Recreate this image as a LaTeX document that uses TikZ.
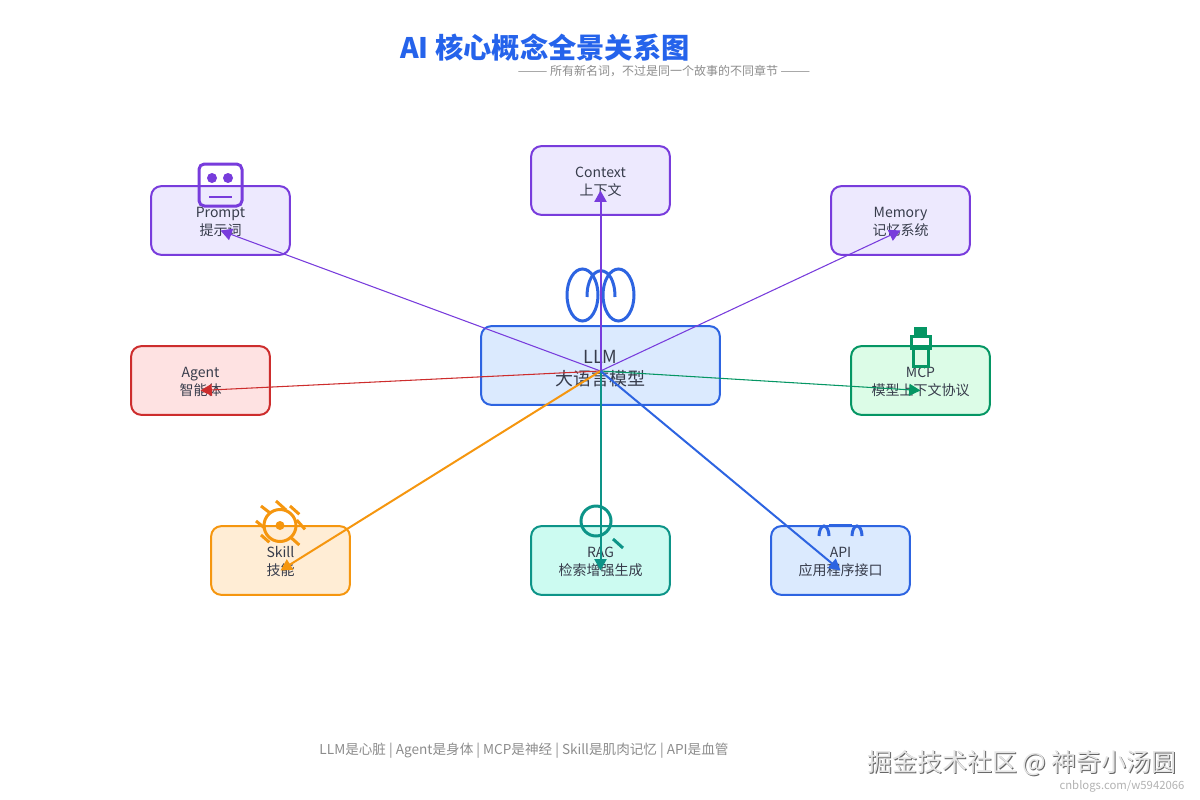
\documentclass[tikz,border=0pt]{standalone}
\usepackage{fontspec}
\setmainfont{Noto Sans CJK SC}
\usepackage{xcolor}
\usetikzlibrary{arrows.meta,positioning}
\definecolor{purpleline}{RGB}{120,60,220}
\definecolor{purplefill}{RGB}{237,233,254}
\definecolor{blueline}{RGB}{45,100,225}
\definecolor{bluefill}{RGB}{219,234,254}
\definecolor{titleblue}{RGB}{37,99,235}
\definecolor{redline}{RGB}{205,45,45}
\definecolor{redfill}{RGB}{254,226,226}
\definecolor{greenline}{RGB}{5,150,100}
\definecolor{greenfill}{RGB}{220,252,231}
\definecolor{tealline}{RGB}{13,148,136}
\definecolor{tealfill}{RGB}{204,251,241}
\definecolor{orangeline}{RGB}{245,150,15}
\definecolor{orangefill}{RGB}{255,237,213}
\definecolor{ink}{RGB}{55,60,75}
\definecolor{muted}{RGB}{140,140,140}
\begin{document}
\begin{tikzpicture}[x=0.75pt,y=-0.75pt,
  concept/.style={rectangle, rounded corners=7.5pt, line width=1.5pt, minimum width=104pt,
    minimum height=51.5pt, inner sep=0pt, align=center, text=ink, font=\fontsize{10.5pt}{13.5pt}\selectfont},
  arr/.style={-{Triangle[length=8.5pt,width=9pt]}},
  thin link/.style={arr, line width=0.8pt},
  bold link/.style={arr, line width=1.5pt},
  icon/.style={line width=2.25pt}]
  \useasboundingbox (0,0) rectangle (1200,800);
  % title
  \node[text=titleblue, font=\fontsize{21.2pt}{25pt}\selectfont\bfseries] (title) at (545,48) {AI 核心概念全景关系图};
  \node[text=muted, font=\fontsize{9pt}{11pt}\selectfont] (subtitle) at (664,71) {——— 所有新名词，不过是同一个故事的不同章节 ———};
  % concepts
  \node[concept, draw=purpleline, fill=purplefill] (prompt) at (220.5,220.5) {\rule{0pt}{9.2pt}Prompt\\提示词};
  \node[concept, draw=purpleline, fill=purplefill] (context) at (600.5,180.5) {\rule{0pt}{9.2pt}Context\\上下文};
  \node[concept, draw=purpleline, fill=purplefill] (memory) at (900.5,220.5) {\rule{0pt}{9.2pt}Memory\\记忆系统};
  \node[concept, draw=redline, fill=redfill] (agent) at (200.5,380.5) {\rule{0pt}{9.2pt}Agent\\智能体};
  \node[concept, draw=greenline, fill=greenfill] (mcp) at (920.5,380.5) {\rule{0pt}{9.2pt}MCP\\模型上下文协议};
  \node[concept, draw=orangeline, fill=orangefill] (skill) at (280.5,560.5) {\rule{0pt}{9.2pt}Skill\\技能};
  \node[concept, draw=tealline, fill=tealfill] (rag) at (600.5,560.5) {\rule{0pt}{9.2pt}RAG\\检索增强生成};
  \node[concept, draw=blueline, fill=bluefill] (api) at (840.5,560.5) {\rule{0pt}{9.2pt}API\\应用程序接口};
  % center
  \node[concept, draw=blueline, fill=bluefill, minimum width=179pt, minimum height=59pt,
    font=\fontsize{13.5pt}{16.5pt}\selectfont] (llm) at (600.5,365.5) {\rule{0pt}{15pt}LLM\\大语言模型};
  % icons
  \draw[icon, purpleline, rounded corners=4pt] (199,164) rectangle (242,206);
  \fill[purpleline] (212,178) circle (5) (228,178) circle (5);
  \draw[line width=1.5pt, purpleline] (209,197) -- (232,197);
  \draw[icon, blueline] (582.5,295) ellipse (15.5 and 26) (618.5,295) ellipse (15.5 and 26);
  \draw[icon, blueline] (587,297) .. controls (587,262) and (615,262) .. (615,297);
  \fill[greenline] (914,327) rectangle (927,336);
  \draw[icon, greenline] (911.5,336) rectangle (930,348.5) (913.5,348.5) rectangle (928,366.5);
  \draw[icon, orangeline] (280,525.5) circle (16);
  \fill[orangeline] (280,525.5) circle (4.5);
  \draw[icon, orangeline] (261,506) -- (270.7,513.5) (276,501) -- (286,510) (290,506) -- (299.3,514.3)
    (256,521) -- (265,528.3) (296.7,520) -- (305,529.3) (261,535) -- (269.3,542.3) (290,536.7) -- (299.3,545);
  \draw[icon, tealline] (596,521) circle (15);
  \draw[icon, tealline] (613,539) -- (623,548);
  \draw[icon, blueline] (819,536) arc[start angle=180, end angle=360, x radius=5, y radius=10]
    (852,536) arc[start angle=180, end angle=360, x radius=5, y radius=10];
  \draw[line width=1.5pt, blueline] (829,525) -- (852,525);
  % links
  \coordinate (hub) at (600.5,371);
  \coordinate (prompt end) at ([yshift=-7.5pt]prompt.center);
  \coordinate (context end) at ([yshift=-7.5pt]context.center);
  \coordinate (memory end) at ([yshift=-7.5pt]memory.center);
  \coordinate (agent end) at ([yshift=-7.5pt]agent.center);
  \coordinate (mcp end) at ([yshift=-7.5pt]mcp.center);
  \coordinate (skill end) at ([yshift=-7.5pt]skill.center);
  \coordinate (rag end) at ([yshift=-7.5pt]rag.center);
  \coordinate (api end) at ([yshift=-7.5pt]api.center);
  \draw[thin link, purpleline] (hub) -- (prompt end);
  \draw[bold link, purpleline] (hub) -- (context end);
  \draw[thin link, purpleline] (hub) -- (memory end);
  \draw[thin link, redline] (hub) -- (agent end);
  \draw[thin link, greenline] (hub) -- (mcp end);
  \draw[bold link, orangeline] (hub) -- (skill end);
  \draw[bold link, tealline] (hub) -- (rag end);
  \draw[bold link, blueline] (hub) -- (api end);
  % footer
  \node[text=muted, font=\fontsize{10.2pt}{12pt}\selectfont] (footer) at (524,751)
    {LLM是心脏 | Agent是身体 | MCP是神经 | Skill是肌肉记忆 | API是血管};
  \node[text=black!60, font=\fontsize{18.75pt}{22pt}\selectfont] (mark shadow) at (1023,764.5) {掘金技术社区 @ 神奇小汤圆};
  \node[text=white!90!black, font=\fontsize{18.75pt}{22pt}\selectfont] (mark) at (1022,763.5) {掘金技术社区 @ 神奇小汤圆};
  \node[text=black!30, font=\fontsize{8.5pt}{10pt}\selectfont] (site) at (1122,786) {cnblogs.com/w5942066};
\end{tikzpicture}
\end{document}
